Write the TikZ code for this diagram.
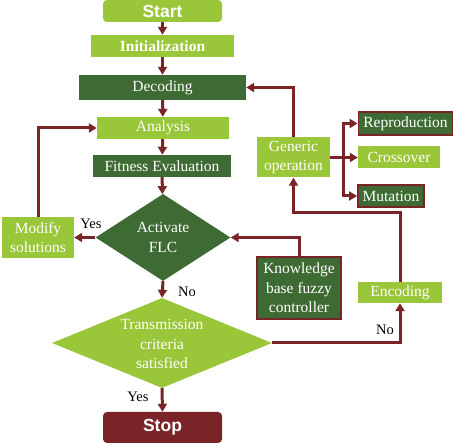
\documentclass[tikz,border=0pt]{standalone}
\usepackage{fontspec}
\setmainfont{Liberation Serif}
\newfontfamily\arialfont{Liberation Sans}
\usetikzlibrary{shapes.geometric,arrows.meta}
\definecolor{lg}{HTML}{9AC63A}
\definecolor{dg}{HTML}{3E6B34}
\definecolor{dr}{HTML}{7A2428}
\begin{document}
\begin{tikzpicture}[x=1pt,y=-1pt,
  every node/.style={font=\fontsize{15.5}{19.5}\selectfont, text=white, align=center, inner sep=0pt},
  lbox/.style={fill=lg, rectangle},
  dbox/.style={fill=dg, rectangle},
  rbox/.style={fill=dg, draw=dr, line width=1.8pt, rectangle},
  term/.style={rectangle, rounded corners=4pt, font=\arialfont\bfseries\fontsize{17.5}{20}\selectfont},
  conn/.style={draw=dr, line width=3pt},
  arr/.style={conn, -{Triangle[length=8pt,width=9pt]}},
  lab/.style={text=black, font=\fontsize{14.5}{16}\selectfont}
]
\useasboundingbox (0,0) rectangle (453,443);
\fill[white] (0,0) rectangle (453,443);
\node[term, fill=lg, minimum width=119pt, minimum height=22pt] (start) at (162.5,11) {Start};
\node[lbox, minimum width=143pt, minimum height=22pt, font=\bfseries\fontsize{15.5}{19}\selectfont] (init) at (162.5,46) {Initialization};
\node[dbox, minimum width=167pt, minimum height=25pt] (decod) at (162.5,87.5) {Decoding};
\node[lbox, minimum width=132pt, minimum height=22pt] (anal) at (163,128) {Analysis};
\node[dbox, minimum width=138pt, minimum height=22pt] (fit) at (162,166) {Fitness Evaluation};
\node[diamond, fill=dg, minimum width=135pt, minimum height=87pt] (act) at (163,237.5) {};
\node (acttxt) at (act) {Activate\\FLC};
\node[lbox, minimum width=72pt, minimum height=41pt] (mod) at (38,237.5) {Modify\\solutions};
\node[rbox, minimum width=84pt, minimum height=62pt] (know) at (299,288) {Knowledge\\base fuzzy\\controller};
\node[diamond, fill=lg, minimum width=220pt, minimum height=90pt] (trans) at (162,343) {};
\node (transtxt) at (162,344) {Transmission\\criteria\\satisfied};
\node[term, fill=dr, minimum width=119pt, minimum height=31pt] (stop) at (162.5,427.5) {Stop};
\node[lbox, minimum width=84pt, minimum height=21pt] (enc) at (400,292.5) {Encoding};
\node[lbox, minimum width=73pt, minimum height=40pt] (gen) at (293.5,157.5) {Generic\\operation};
\node[rbox, minimum width=94pt, minimum height=23pt] (rep) at (405.5,123.5) {Reproduction};
\node[lbox, minimum width=82pt, minimum height=22pt] (cross) at (399,157.5) {Crossover};
\node[rbox, minimum width=66pt, minimum height=22pt] (mut) at (391,196) {Mutation};
\coordinate (br) at (343,157.5);
\coordinate (encturn) at (400,213);

\draw[arr] (start) -- (init);
\draw[arr] (init) -- (decod);
\draw[arr] (decod) -- (anal);
\draw[arr] (anal) -- (fit);
\draw[arr] (fit) -- (act);
\draw[arr] (act.west) -- (mod.east);
\draw[arr] (mod.north) |- (anal.west);
\draw[arr] (know.north) |- (act.east);
\draw[arr] (act.south) -- (trans.north);
\draw[arr] (trans.south) -- (stop.north);
\draw[arr] (trans.east) -| (enc.south);
\draw[arr] (enc.north) -- (encturn) -| (gen.south);
\draw[arr] (gen.north) |- (decod.east);
\draw[arr] (gen.east) -- (cross.west);
\draw[arr] (br) |- (rep.west);
\draw[arr] (br) |- (mut.west);

\node[lab] (yes1) at (91,224) {Yes};
\node[lab] (no1) at (187,292) {No};
\node[lab] (yes2) at (138,397) {Yes};
\node[lab] (no2) at (385,330) {No};
\end{tikzpicture}
\end{document}
